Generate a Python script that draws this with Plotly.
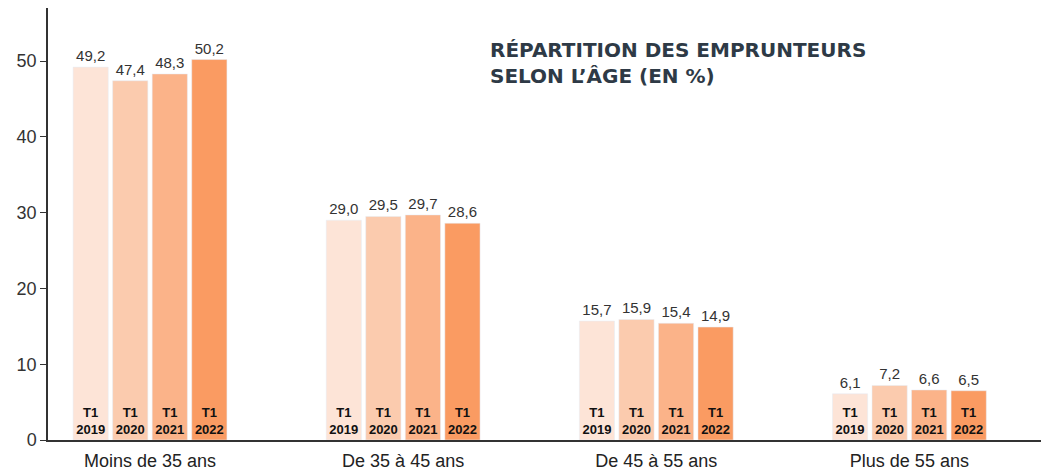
import plotly.graph_objects as go

# Age groups and yearly shares (Q1 of each year)
categories = ["Moins de 35 ans", "De 35 à 45 ans", "De 45 à 55 ans", "Plus de 55 ans"]
periods = ["T1<br>2019", "T1<br>2020", "T1<br>2021", "T1<br>2022"]
values_2019 = [49.2, 29.0, 15.7, 6.1]
values_2020 = [47.4, 29.5, 15.9, 7.2]
values_2021 = [48.3, 29.7, 15.4, 6.6]
values_2022 = [50.2, 28.6, 14.9, 6.5]
series = [values_2019, values_2020, values_2021, values_2022]
colors = ["#FDE4D7", "#FBCBAE", "#FBB389", "#FA9B62"]

fig = go.Figure()

for i, (vals, period, color) in enumerate(zip(series, periods, colors)):
    # Bar with period label inside, at the base
    fig.add_trace(go.Bar(
        x=categories, y=vals, offsetgroup=str(i),
        marker=dict(color=color, line=dict(width=0)),
        text=[period] * len(vals),
        textposition="inside", insidetextanchor="start",
        textfont=dict(family="Liberation Sans", size=13, color="#111111", weight="bold"),
        textangle=0, showlegend=False, hoverinfo="skip",
    ))
    # Transparent overlay carrying the value above each bar
    fig.add_trace(go.Bar(
        x=categories, y=vals, offsetgroup=str(i),
        marker=dict(color="rgba(0,0,0,0)"),
        text=[f"{v:.1f}".replace(".", ",") for v in vals],
        textposition="outside", cliponaxis=False,
        textfont=dict(family="Liberation Sans", size=15, color="#333333"),
        showlegend=False,
    ))

fig.add_annotation(
    text="<b>RÉPARTITION DES EMPRUNTEURS<br>SELON L’ÂGE (EN %)</b>",
    xref="paper", yref="paper", x=0.443, y=0.935, xanchor="left", yanchor="top",
    align="left", showarrow=False,
    font=dict(family="DejaVu Sans", size=20, color="#2E3A46"),
)

fig.update_layout(
    width=1041, height=475,
    margin=dict(l=48, r=0, t=8, b=35),
    plot_bgcolor="white", paper_bgcolor="white",
    barmode="group", bargap=0.375, bargroupgap=0.11,
    font=dict(family="Liberation Sans", color="#333333"),
)
fig.update_xaxes(
    range=[-0.403, 3.52], showline=True, linecolor="#333333", linewidth=1.5,
    showgrid=False, ticks="", tickfont=dict(size=18, color="#222222"),
    ticklabelstandoff=4, automargin=False,
)
fig.update_yaxes(
    range=[0, 57], showline=True, linecolor="#333333", linewidth=1.5,
    showgrid=False, zeroline=False, ticks="outside", ticklen=6, tickcolor="#333333",
    tickvals=[0, 10, 20, 30, 40, 50], tickfont=dict(size=18, color="#333333"),
    automargin=False,
)

# Remove the default page margin so the figure sits at the window's corner
fig.write_html("out.html", config={"displayModeBar": False},
               post_script="document.body.style.margin='0';")
